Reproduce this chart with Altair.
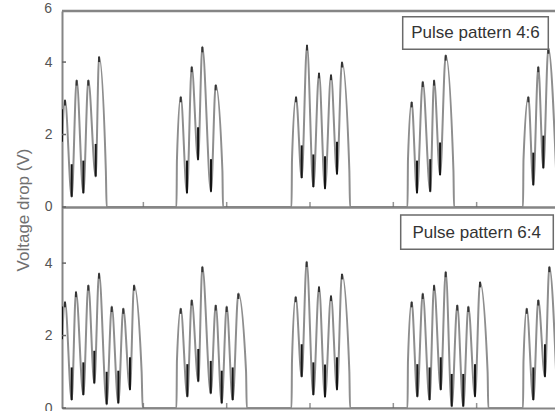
import altair as alt
import pandas as pd

# ---- data (time in pulse-seconds, voltage in V) ----
TOP_T = [0, 0.26, 0.84, 1.27, 1.85, 2.28, 2.92, 3.21, 3.80, 3.87,
         9.92, 9.96, 10.29, 10.83, 11.24, 11.79, 12.16, 12.91, 13.32, 13.90, 13.95,
         19.89, 19.93, 20.28, 20.77, 21.23, 21.78, 22.27, 22.79, 23.31, 23.83, 24.26, 24.90, 24.96,
         29.94, 29.98, 30.30, 30.76, 31.26, 31.91, 32.24, 32.76, 33.25, 33.92, 33.97,
         39.95, 39.99, 40.41, 40.84, 41.27, 41.71, 42.14, 42.89]
TOP_V = [1.8, 2.95, 0.28, 3.5, 0.38, 3.5, 0.84, 4.15, 1.0, 0,
         0, 1.3, 3.04, 0.38, 3.87, 1.3, 4.42, 0.42, 3.37, 1.0, 0,
         0, 1.3, 3.04, 0.8, 4.47, 0.55, 3.7, 0.5, 3.65, 0.9, 4.0, 1.0, 0,
         0, 1.3, 2.9, 0.38, 3.46, 0.42, 3.5, 0.88, 4.19, 1.0, 0,
         0, 1.3, 3.04, 0.6, 3.87, 1.07, 4.38, 0.42]

BOT_T = [0, 0.26, 0.84, 1.21, 1.85, 2.28, 2.80, 3.21, 3.87, 4.31, 4.88, 5.31, 5.89, 6.24, 6.90, 6.99,
         9.92, 9.96, 10.29, 10.86, 11.24, 11.81, 12.16, 12.89, 13.32, 13.84, 14.27, 14.79, 15.28, 15.95, 16.01,
         19.89, 19.93, 20.25, 20.77, 21.20, 21.78, 22.27, 22.79, 23.31, 23.83, 24.26, 24.90, 24.96,
         29.94, 29.98, 30.30, 30.79, 31.26, 31.85, 32.24, 32.82, 33.25, 33.77, 34.25, 34.77, 35.21, 35.79, 36.22, 36.88, 36.94,
         39.95, 39.99, 40.27, 40.84, 41.27, 41.85, 42.23, 42.89]
BOT_V = [1.9, 2.93, 0.22, 3.21, 0.36, 3.39, 0.68, 3.72, 0.1, 2.8, 0.13, 2.75, 0.5, 3.39, 1.0, 0,
         0, 1.3, 2.75, 0.31, 2.98, 0.73, 3.9, 0.4, 2.84, 0.13, 2.8, 0.22, 3.16, 1.0, 0,
         0, 1.3, 3.07, 0.86, 4.04, 0.36, 3.35, 0.3, 3.1, 0.5, 3.7, 1.0, 0,
         0, 1.3, 2.93, 0.31, 3.16, 0.22, 3.39, 0.5, 3.76, 0.04, 2.84, 0.04, 2.8, 0.31, 3.48, 1.0, 0,
         0, 1.3, 2.75, 0.22, 2.98, 0.86, 3.9, 0.4]

Y_TICKS = [0, 2, 4]
X_TICKS = [7.05, 14.27, 21.49, 28.71, 35.93]
LABELS = ["Pulse pattern 4:6", "Pulse pattern 6:4"]
Y_TITLE = "Voltage drop (V)"

OFF = 5.55      # baseline of the upper panel on the stacked scale
BOT_MAX = 5.52
TOP_MAX = 5.41
T_MAX = 42.72
W, H = 493, 397
FONT = "Liberation Sans"
GRAY = "#8e8e8e"
AXC = "#858585"


def frame(ts, vs, off, name):
    return pd.DataFrame({"t": ts, "y": [v + off for v in vs], "panel": name})


line_df = pd.concat([frame(TOP_T, TOP_V, OFF, "top"), frame(BOT_T, BOT_V, 0, "bottom")])


def extrema(ts, vs, off):
    dark, tips = [], []
    n = len(vs)
    for i, v in enumerate(vs):
        if i == 0 or (0 < i < n - 1 and v < vs[i - 1] and v < vs[i + 1]):
            dark.append({"t": ts[i], "y": v + off, "hi": v + off + 0.9})
        if 0 < i < n - 1 and v > vs[i - 1] and v > vs[i + 1]:
            tips.append({"t": ts[i], "y": v + off - 0.15, "hi": v + off})
    return dark, tips


d1, p1 = extrema(TOP_T, TOP_V, OFF)
d2, p2 = extrema(BOT_T, BOT_V, 0)
dark_df = pd.DataFrame(d1 + d2)
tip_df = pd.DataFrame(p1 + p2)

xs = alt.Scale(domain=[0, T_MAX], nice=False, zero=False)
ys = alt.Scale(domain=[0, OFF + TOP_MAX], nice=False)

tick_vals = Y_TICKS + [v + OFF for v in Y_TICKS]

XAX = alt.Axis(labels=False, ticks=False, grid=False, domain=True,
               domainColor=AXC, domainWidth=2, title=None)
YAX = alt.Axis(
    values=tick_vals,
    labelExpr="'' + round(datum.value >= 5 ? datum.value - %s : datum.value)" % OFF,
    ticks=False, tickSize=0, grid=False, domain=True, domainColor=AXC, domainWidth=2,
    labelFont=FONT, labelFontSize=14, labelColor="#555555", labelPadding=10,
    title=Y_TITLE, titleFont=FONT, titleFontSize=17, titleFontWeight="normal",
    titleColor="#707070", titleX=-39, titleBaseline="middle")

X = alt.X("t:Q", scale=xs, axis=XAX)
Y = alt.Y("y:Q", scale=ys, axis=YAX)

lines = alt.Chart(line_df).mark_line(
    color=GRAY, strokeWidth=2, clip=True, interpolate="monotone").encode(
    x=X, y=Y, detail="panel:N")

darks = alt.Chart(dark_df).mark_rule(color="#151515", strokeWidth=2, clip=True).encode(
    x=X, y=Y, y2="hi:Q")

tips = alt.Chart(tip_df).mark_rule(color="#333333", strokeWidth=2, clip=True).encode(
    x=X, y=Y, y2="hi:Q")

borders = alt.Chart(pd.DataFrame({"y": [OFF + TOP_MAX, (BOT_MAX + OFF) / 2]})).mark_rule(
    color=AXC, strokeWidth=2.5).encode(
    y=Y, x=alt.value(0), x2=alt.value(W))

yticks = alt.Chart(pd.DataFrame({"y": tick_vals})).mark_rule(color="#666666", strokeWidth=1.5).encode(
    y=Y, x=alt.value(0), x2=alt.value(4))

xt_rows = [{"t": t, "y": b} for b in [0, OFF] for t in X_TICKS]
xticks = alt.Chart(pd.DataFrame(xt_rows)).mark_tick(
    orient="vertical", size=5, thickness=1.5, color="#666666", yOffset=-2.5).encode(
    x=X, y=Y)

six = alt.Chart(pd.DataFrame({"s": ["6"]})).mark_text(
    font=FONT, fontSize=14, color="#555555", align="right", baseline="middle").encode(
    text="s:N", x=alt.value(-10), y=alt.value(-2))

box1 = alt.Chart(pd.DataFrame({"label": [LABELS[0]]})).mark_rect(
    fill="white", stroke="#6a6a6a", strokeWidth=1.5).encode(
    x=alt.value(340.7), x2=alt.value(486.3), y=alt.value(5.7), y2=alt.value(38.3))
txt1 = alt.Chart(pd.DataFrame({"label": [LABELS[0]]})).mark_text(
    font=FONT, fontSize=17, color="#333333", align="center", baseline="middle").encode(
    text="label:N", x=alt.value(413.5), y=alt.value(22))
box2 = alt.Chart(pd.DataFrame({"label": [LABELS[1]]})).mark_rect(
    fill="white", stroke="#6a6a6a", strokeWidth=1.5).encode(
    x=alt.value(338.7), x2=alt.value(491.3), y=alt.value(204), y2=alt.value(238.3))
txt2 = alt.Chart(pd.DataFrame({"label": [LABELS[1]]})).mark_text(
    font=FONT, fontSize=17, color="#333333", align="center", baseline="middle").encode(
    text="label:N", x=alt.value(414.7), y=alt.value(222))

chart = alt.layer(lines, darks, tips, borders, yticks, xticks, six, box1, txt1, box2, txt2).properties(
    width=W, height=H,
    padding={"left": 62, "top": 11, "right": 0, "bottom": 3},
    autosize=alt.AutoSizeParams(type="none"),
    background="white",
).configure_view(stroke=None)

chart.save("out.html", embed_options={"renderer": "svg", "actions": False})
